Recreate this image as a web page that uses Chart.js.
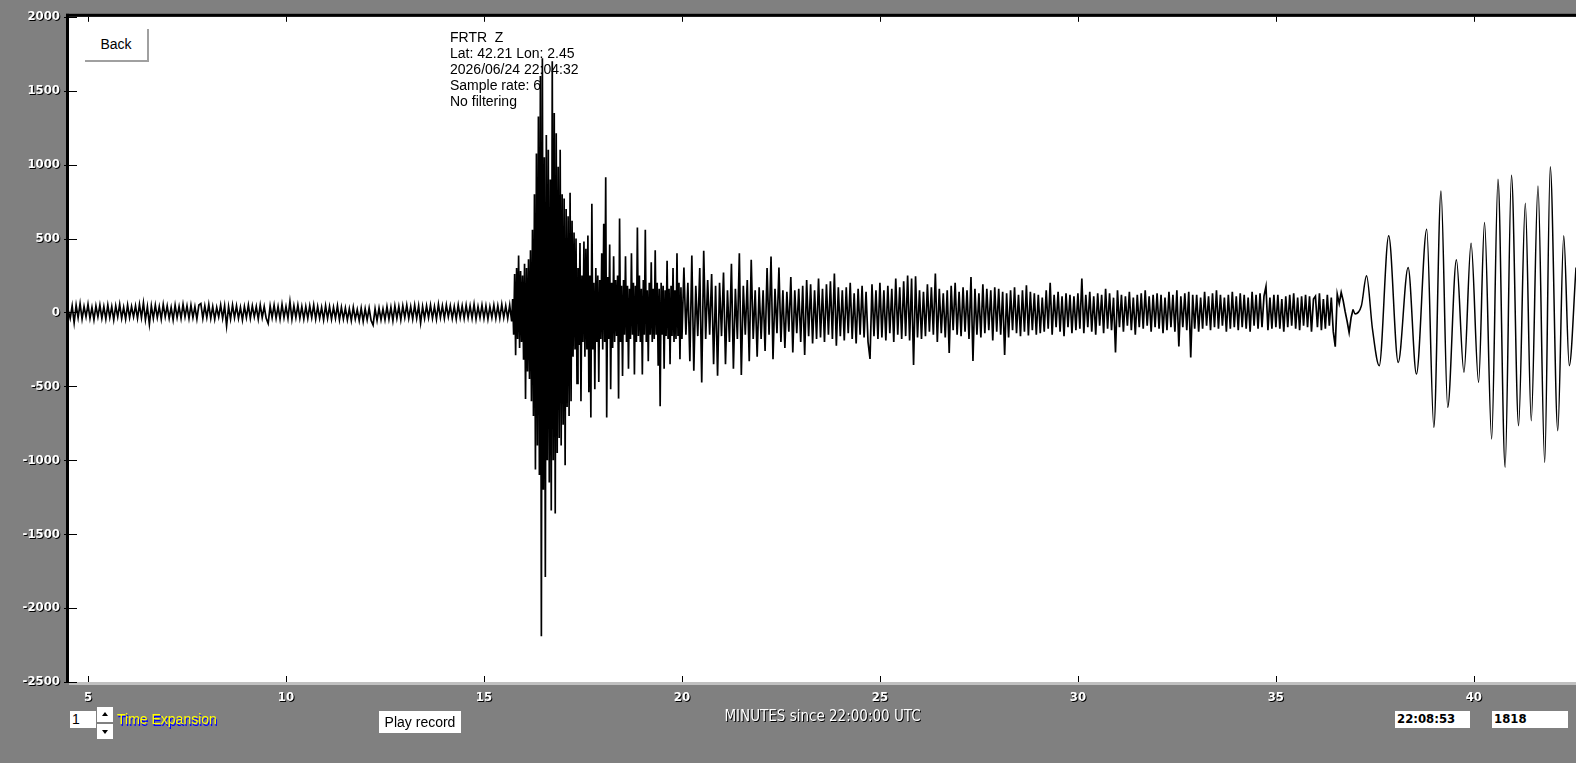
<!DOCTYPE html>
<html>
<head>
<meta charset="utf-8">
<script src="https://cdn.jsdelivr.net/npm/chart.js@4.4.1/dist/chart.umd.min.js"></script>
<style>
html, body { margin: 0; padding: 0; background: #808080; overflow: hidden; }
#wrap { position: relative; width: 1576px; height: 763px; }
#seis { position: absolute; left: 0; top: 0; }
.w { position: absolute; background: #fff; color: #000; box-sizing: border-box; font: 14px 'Liberation Sans', Arial, sans-serif; white-space: nowrap; }
#back { left: 85px; top: 29px; width: 64px; height: 33px; border-right: 2px solid #a0a0a0; border-bottom: 2px solid #a0a0a0; text-align: center; line-height: 31px; }
#expVal { left: 70px; top: 711px; width: 26px; height: 17px; padding-left: 2px; line-height: 17px; }
.spin { position: absolute; left: 97px; width: 16px; height: 15px; background: #fff; }
#up { top: 707px; }
#down { top: 724px; }
.spin i { position: absolute; left: 5px; width: 0; height: 0; border-left: 3px solid transparent; border-right: 3px solid transparent; }
#up i { top: 5px; border-bottom: 4px solid #000; }
#down i { top: 6px; border-top: 4px solid #000; }
#expLbl { position: absolute; left: 117px; top: 711px; color: #ffff00; font: 14px 'Liberation Sans', Arial, sans-serif; text-shadow: 1px 2px 0 #0000ff; white-space: nowrap; }
#play { left: 379px; top: 711px; width: 82px; height: 22px; text-align: center; line-height: 22px; }
#clock { left: 1395px; top: 711px; width: 75px; height: 17px; padding-left: 2px; line-height: 17px; font: bold 13px 'DejaVu Sans Condensed', 'Liberation Sans Narrow', sans-serif; }
#count { left: 1492px; top: 711px; width: 76px; height: 17px; padding-left: 2px; line-height: 17px; font: bold 13px 'DejaVu Sans Condensed', 'Liberation Sans Narrow', sans-serif; }
</style>
</head>
<body>
<div id="wrap">
  <canvas id="seis" width="1576" height="763"></canvas>
  <div class="w" id="back">Back</div>
  <div class="w" id="expVal">1</div>
  <div class="spin" id="up"><i></i></div>
  <div class="spin" id="down"><i></i></div>
  <div id="expLbl">Time Expansion</div>
  <div class="w" id="play">Play record</div>
  <div class="w" id="clock">22:08:53</div>
  <div class="w" id="count">1818</div>
</div>
<script>
// spacing of the traced values (minutes)
const SAMPLE_STEP = 0.05;
const ONSET_STEP = 0.025;

// quiet part before the arrival, from 4.50 min
const preStart = 4.50;
const preValues = [
  15, -40, 45, -70, 50, -35, 60, -45, 40, -30, 55, -40, 35, -50, 45, -30, 50, -40, 40, -45,
  50, -35, 40, -50, 45, -30, 55, -40, 35, -45, 50, -35, 40, -30, 45, -40, 55, -35, 65, -50,
  40, -80, 45, -40, 50, -35, 40, -45, 55, -30, 45, -40, 35, -50, 50, -35, 40, -40, 55, -30,
  45, -40, 50, -35, 40, -45, 50, 60, -40, 45, -35, 55, -40, 40, -45, 35, -30, 50, -40, 45,
  -90, 40, -45, 50, -35, 45, -40, 35, -50, 40, -35, 50, -40, 45, -30, 40, -45, 50, -35, 40,
  -40, -75, 45, -35, 50, -40, 40, -45, 55, -35, 40, -40, 74, -45, 45, -35, 50, -40, 40, -45,
  40, -40, 45, -35, 50, -45, 40, -40, 35, -50, 45, -40, 40, -45, 35, -40, 45, -50, 35, -45,
  30, -50, 25, -55, 35, -45, 20, -55, 30, -60, 25, -50, 30, -55, -85, 25, -55, 30, -50, 25,
  -50, 40, -45, 35, -55, 45, -40, 40, -50, 45, -35, 50, -40, 40, -45, 50, -40, 45, -70, 40,
  -40, 45, -35, 50, -40, 40, -45, 55, -35, 45, -40, 50, -30, 45, -40, 40, -45, 50, -35, 45,
  -40, 50, -35, 45, -40, 55, -45, 40, -35, 50, -40, 45, -45, 40, -35, 50, -40, 45, -40, 55,
  -35, 45, -40, 50
];

// P and S arrivals, from 15.70 min (finer spacing, one row per half minute)
const onsetStart = 15.70;
const onsetValues = [
  -60, 90, -150, 260, -290, 300, -180, 385, -240, 280, -200, 250, -320, 330, -585, 300, -400, 360, -450, 420,
  -600, 560, -700, 800, -1062, 1075, -900, 1325, -1100, 1600, -2190, 1720, -1200, 1050, -1790, 1200, -1000, 1100, -1150, 900,
  -1340, 1700, -1000, 1350, -1360, 1212, -950, 985, -850, 1100, -900, 800, -760, 770, -1034, 700, -640, 650, -700, 810,
  -600, 620, -300, 540, -250, 500, -480, 300, -220, 470, -600, 250, -200, 480, -300, 430, -250, 520, -540, 250,
  -710, 736, -250, 200, -520, 300, -200, 250, -470, 220, -180, 400, -250, 600, -200, 915, -710, 240, -180, 460,
  -520, 200, -240, 380, -200, 220, -160, 250, -583, 635, -200, 180, -430, 220, -150, 380, -200, 180, -380, 160,
  -180, 400, -150, 200, -420, 180, -200, 575, -160, 250, -200, 160, -420, 220, -150, 560, -200, 150, -330, 200,
  -150, 340, -200, 160, -180, 420, -150, 200, -360, 160, -635, 200, -150, 180, -380, 150, -160, 350, -180, 160,
  -350, 180, -160, 300, -200, 150, -180, 400, -160, 200, -317, 170
];

// coda, from 20.00 min (one row per minute)
const codaStart = 20.00;
const codaValues = [
  -180, 304, -150, 200, -330, 385, -394, 180, -160, 300, -473, 417, -180, 220, -150, 260, -350, 180, -428, 200,
  -160, 270, -350, 150, -200, 330, -380, 160, -180, 400, -423, 180, -150, 220, -330, 356, -180, 150, -300, 170,
  -180, 150, -260, 300, -150, 378, -317, 160, -140, 304, -200, 150, -240, 140, -130, 240, -270, 150, -140, 160,
  -200, 180, -288, 220, -160, 190, -210, 150, -180, 230, -170, 160, -200, 190, -150, 210, -180, 263, -225, 170,
  -160, 150, -190, 170, -140, 200, -180, 130, -210, 160, -150, 180, -170, 140, -200, -315, 190, -160, 150, -180,
  200, -170, 150, -190, 180, -140, 160, -200, 230, -150, 170, -180, 210, -160, 250, -190, 230, -356, 245, -170,
  150, -180, 140, -160, 190, -130, 170, -150, 263, -200, 160, -140, 130, -170, 150, -274, 180, -120, 200, -150,
  140, -160, 170, -130, 150, -180, 240, -329, 160, -150, 130, -170, 190, -140, 160, -120, 150, -190, 170, -130,
  160, -150, 140, -288, 130, -170, 150, -120, 170, -140, 120, -160, 150, -130, 184, -155, 140, -120, 130, -150,
  120, -140, 100, -130, 150, -110, 200, -150, 120, -100, 140, -130, 110, -160, 130, -100, 120, -140, 110, -120,
  130, -110, 230, -140, 120, -100, 140, -130, 110, -150, 130, -90, 120, -140, 160, -110, 130, -120, 100, -270,
  150, -100, 120, -130, 110, -90, 140, -120, 100, -150, 120, -100, 130, -110, 150, -90, 110, -130, 120, -100,
  130, -110, 120, -140, 100, -120, 140, -100, 120, -130, 150, -230, 110, -100, 130, -120, 140, -304, 120, -110,
  120, -130, 100, -110, 140, -90, 110, -120, 130, -100, 150, -110, 120, -90, 100, -130, 120, -110, 140, -100,
  110, -120, 130, -100, 120, -110, 100, -130, 140, -90, 120, -110, 130, -100, 110, 175, -120, 100, -110, 120,
  -100, 120, -110, 90, -130, 110, -100, 120, -90, 130, -110, 100, -120, 110, -90, 120, -100, 110, -130, 90,
  110, -100, 130, -120, 90, -110, 120, -90, 100, -130, -232, 124, 60, 135, 80, 5, -60, -135, -35, 20
];

// surface waves: turning points (minutes, counts)
const surfTimes = [37.00, 37.16, 37.29, 37.44, 37.61, 37.85, 38.09, 38.34, 38.55, 38.81, 38.99, 39.17, 39.34, 39.56, 39.75, 39.93,
  40.12, 40.27, 40.45, 40.61, 40.79, 40.95, 41.13, 41.30, 41.45, 41.62, 41.79, 41.93, 42.12, 42.27, 42.41, 42.58];
const surfValues = [-10, 45, 248, -113, -360, 518, -338, 304, -417, 563, -777, 822, -642, 356, -405, 468,
  -473, 608, -856, 901, -1047, 928, -766, 739, -732, 856, -1014, 986, -800, 518, -360, 304];

const xMin = 4.52, xMax = 42.58, xStep = 5;
const yMin = -2500, yMax = 2000, yStep = 500;

const infoLines = ['FRTR  Z', 'Lat: 42.21 Lon: 2.45', '2026/06/24 22:04:32', 'Sample rate: 6', 'No filtering'];
const axisTitle = 'MINUTES since 22:00:00 UTC';

function series(start, values, step) {
  return values.map((v, i) => ({ x: +(start + i * step).toFixed(3), y: v }));
}
const traceData = [
  ...series(preStart, preValues, SAMPLE_STEP),
  ...series(onsetStart, onsetValues, ONSET_STEP),
  ...series(codaStart, codaValues, SAMPLE_STEP)
];
const surfData = [traceData[traceData.length - 1]].concat(surfTimes.map((t, i) => ({ x: t, y: surfValues[i] })));

const labelFont = { family: "'DejaVu Sans Condensed', 'Liberation Sans Narrow', sans-serif", size: 13, weight: 'bold' };

const frame = {
  id: 'frame',
  beforeDraw(chart) {
    const { ctx, chartArea: a } = chart;
    ctx.save();
    ctx.fillStyle = '#fff';
    ctx.fillRect(a.left, a.top, a.right - a.left, a.bottom - a.top);
    ctx.restore();
    // dark drop shadow for the axis texts, removed again before the trace
    ctx.save();
    ctx.shadowColor = '#000';
    ctx.shadowOffsetX = 1;
    ctx.shadowOffsetY = 1;
    ctx.shadowBlur = 0;
  },
  beforeDatasetsDraw(chart) {
    const ctx = chart.ctx;
    ctx.restore();
    ctx.save();
    ctx.fillStyle = '#000';
    ctx.font = "14px 'Liberation Sans', Arial, sans-serif";
    ctx.textBaseline = 'middle';
    infoLines.forEach((s, i) => ctx.fillText(s, 450, 38 + i * 16));
    ctx.restore();
  },
  afterDatasetsDraw(chart) {
    const { ctx, chartArea: a, scales } = chart;
    ctx.save();
    ctx.fillStyle = '#c0c0c0';
    ctx.fillRect(a.left, a.bottom, a.right - a.left, 3);
    ctx.fillStyle = '#000';
    ctx.fillRect(a.left - 3, a.top - 3, 3, a.bottom - a.top + 4);
    ctx.fillRect(a.left - 3, a.top - 3, a.right - a.left + 3, 3);
    scales.x.ticks.forEach(t => {
      const px = Math.round(scales.x.getPixelForValue(t.value));
      ctx.fillRect(px, a.bottom - 6, 1, 6);
      ctx.fillRect(px, a.top, 1, 5);
    });
    scales.y.ticks.forEach(t => {
      const py = Math.round(scales.y.getPixelForValue(t.value));
      ctx.fillRect(a.left - 5, py, 13, 1);
    });
    ctx.restore();
  }
};

new Chart(document.getElementById('seis').getContext('2d'), {
  type: 'line',
  data: {
    datasets: [
      {
        label: 'FRTR Z',
        data: traceData,
        borderColor: '#000',
        borderWidth: 1.7,
        pointRadius: 0,
        tension: 0
      },
      {
        label: 'FRTR Z surface',
        data: surfData,
        borderColor: '#000',
        borderWidth: 1.5,
        pointRadius: 0,
        cubicInterpolationMode: 'monotone'
      }
    ]
  },
  options: {
    responsive: false,
    animation: false,
    devicePixelRatio: 1,
    events: [],
    layout: { padding: { top: 15, right: 0, left: 0, bottom: 0 } },
    plugins: { legend: { display: false }, tooltip: { enabled: false } },
    scales: {
      x: {
        type: 'linear',
        min: xMin,
        max: xMax,
        grid: { display: false, drawTicks: false },
        border: { display: false },
        ticks: {
          stepSize: xStep,
          includeBounds: false,
          maxRotation: 0,
          autoSkip: false,
          color: '#fff',
          font: labelFont,
          padding: 8,
          callback: v => String(v)
        },
        title: {
          display: true,
          text: axisTitle,
          color: '#fff',
          font: { family: labelFont.family, size: 15 },
          padding: { top: 0, bottom: 37 }
        },
        afterFit: s => { s.height = 81; }
      },
      y: {
        type: 'linear',
        min: yMin,
        max: yMax,
        grid: { display: false, drawTicks: false },
        border: { display: false },
        ticks: {
          stepSize: yStep,
          color: '#fff',
          font: labelFont,
          padding: 9,
          callback: v => String(v)
        },
        afterFit: s => { s.width = 69; }
      }
    }
  },
  plugins: [frame]
});
</script>
</body>
</html>
